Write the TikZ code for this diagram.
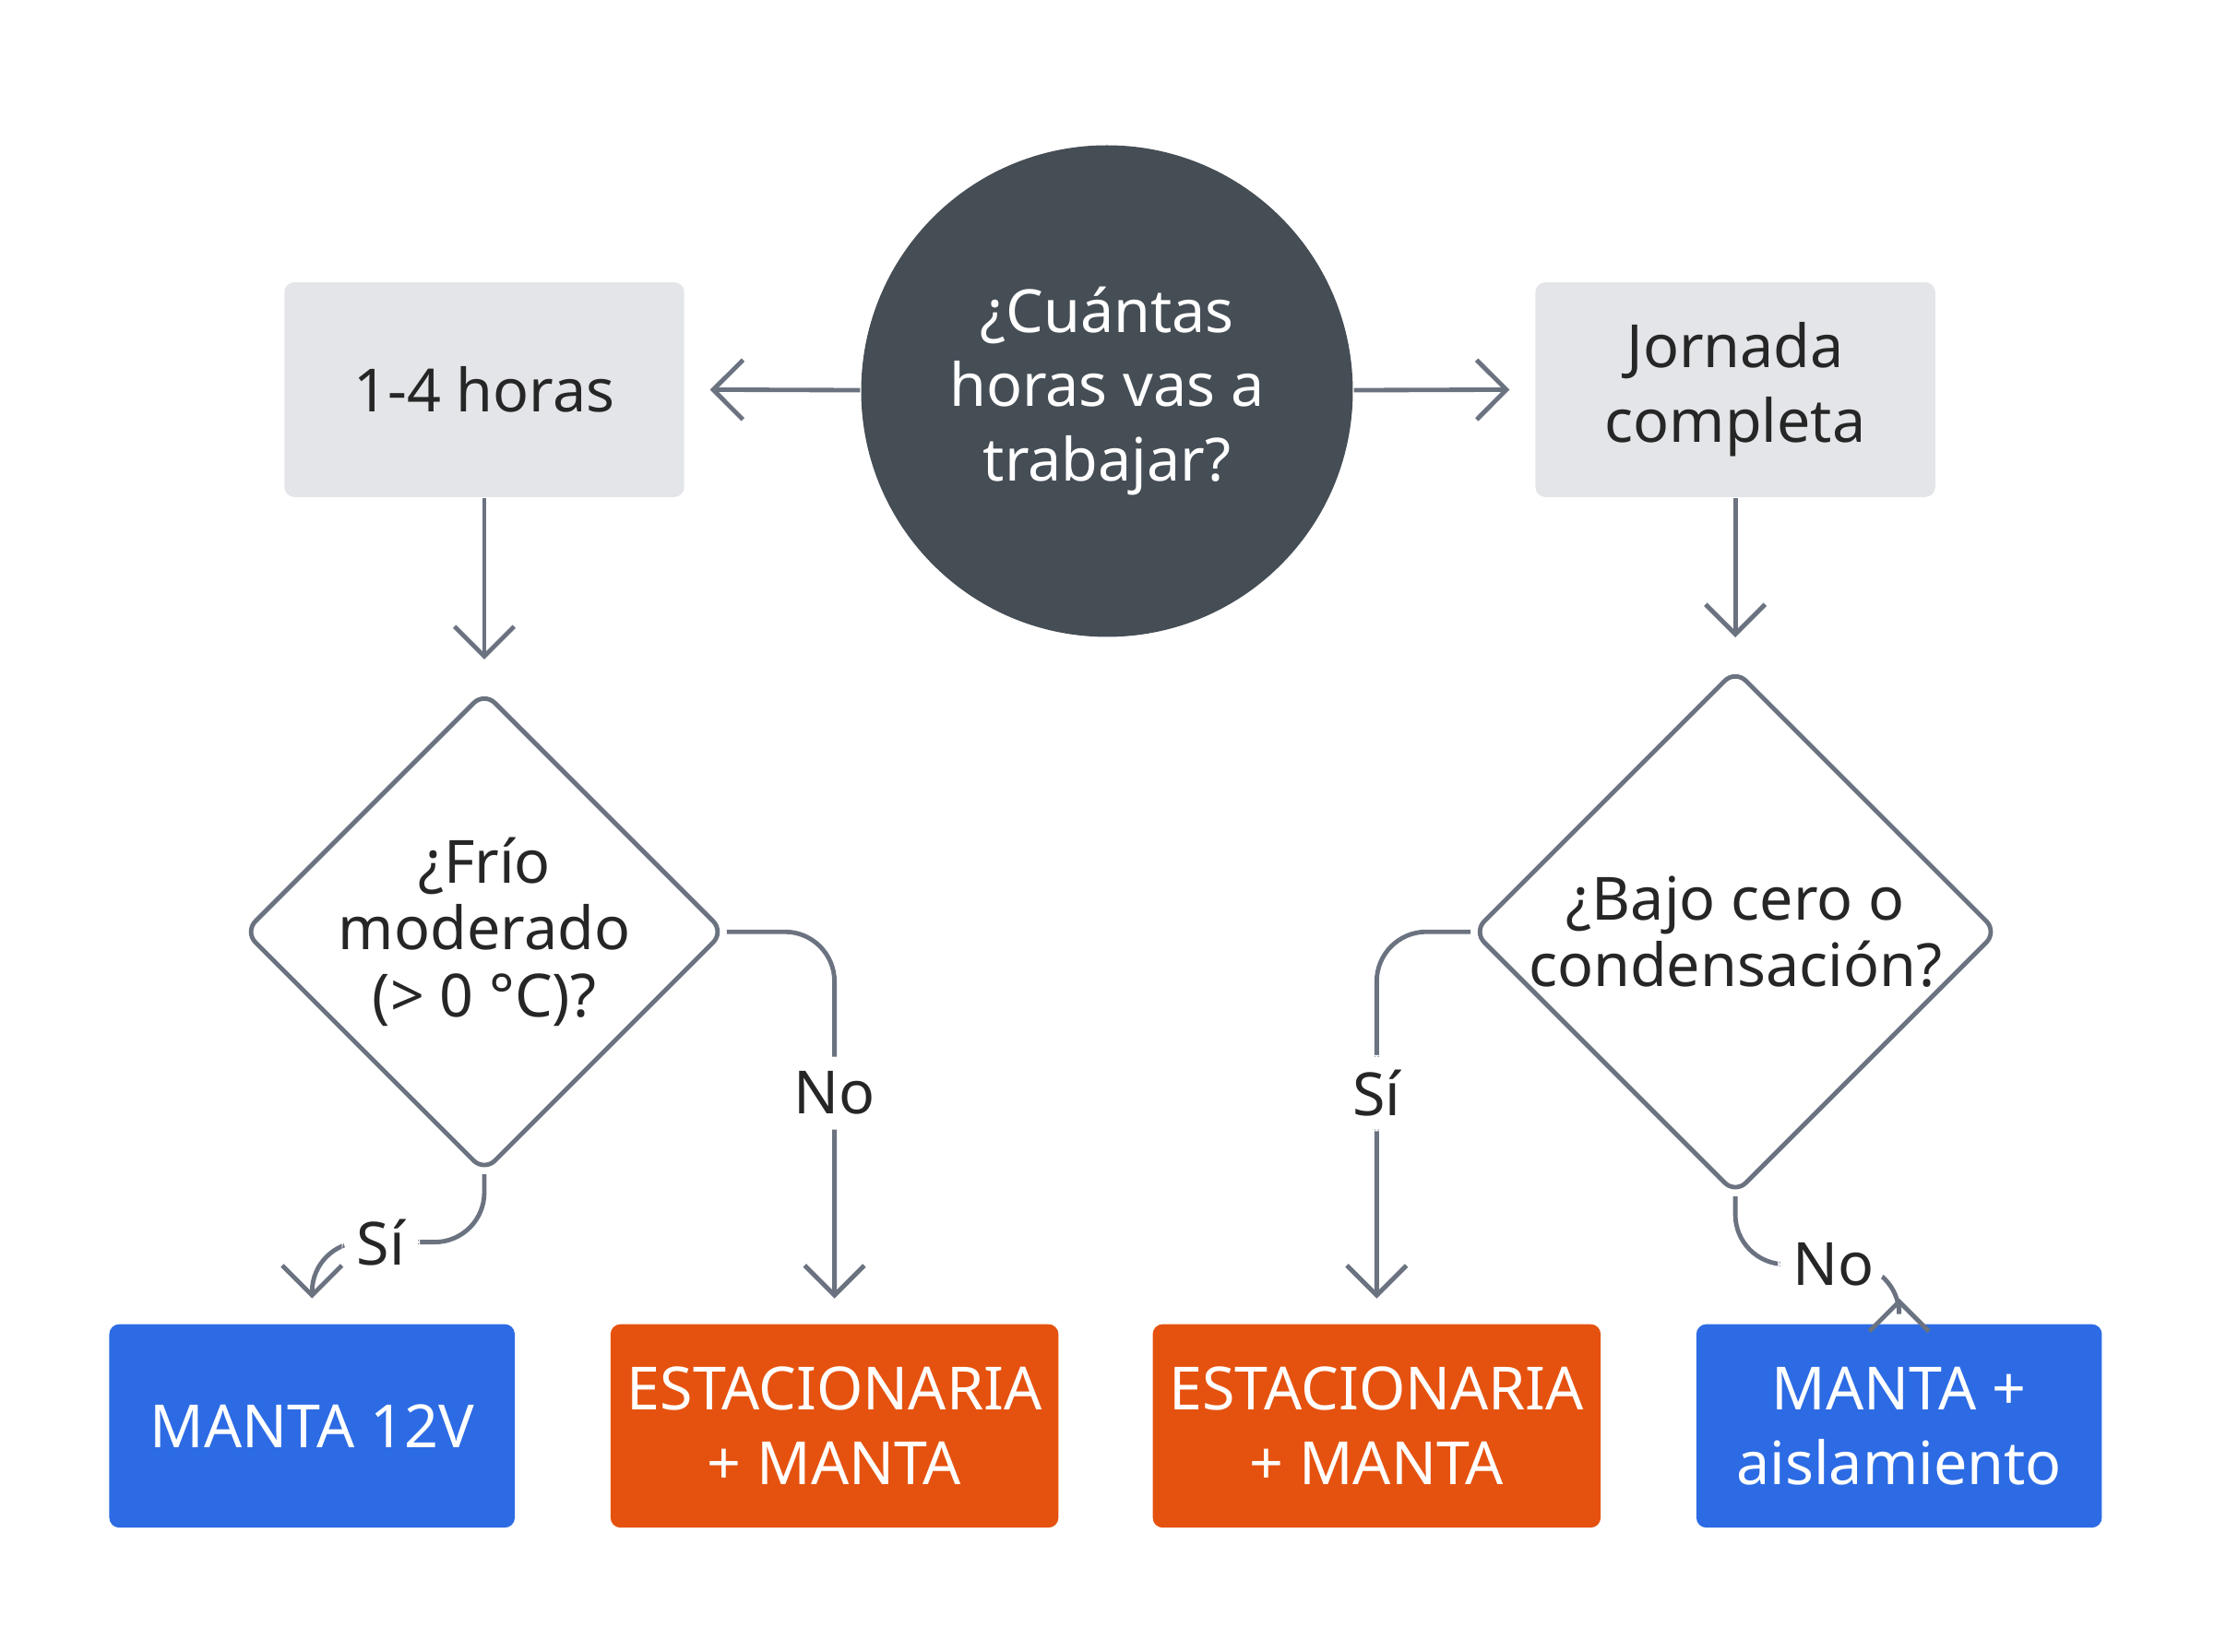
\documentclass[tikz,border=0pt]{standalone}
\usepackage{fontspec}
\setmainfont{Noto Sans}
\usetikzlibrary{arrows.meta,shapes.geometric,positioning}
\definecolor{darkq}{HTML}{454D55}
\definecolor{lightbox}{HTML}{E3E5E8}
\definecolor{linegray}{HTML}{6B7280}
\definecolor{blueres}{HTML}{2C6BE4}
\definecolor{orangeres}{HTML}{E5520F}
\begin{document}
\begin{tikzpicture}[x=0.01cm,y=-0.01cm,font=\fontsize{12}{15}\selectfont]
  \tikzstyle{question}=[circle,fill=darkq,text=white,minimum size=3.48cm,align=center]
  \tikzstyle{option}=[rectangle,rounded corners=2pt,fill=lightbox,minimum width=2.83cm,minimum height=1.52cm,align=center,text=black!85]
  \tikzstyle{decision}=[diamond,draw=linegray,line width=0.9pt,rounded corners=3pt,minimum width=3.3cm,minimum height=3.24cm,inner sep=0pt,align=center,text=black!85,font=\fontsize{12}{13.5}\selectfont]
  \tikzstyle{result}=[rectangle,rounded corners=2pt,minimum height=1.44cm,align=center,text=white]
  \tikzstyle{edge}=[draw=linegray,line width=0.9pt,-{Straight Barb[length=6pt,width=12pt]},rounded corners=10pt]
  \tikzstyle{answer}=[fill=white,inner sep=3pt,text=black!85]
  \useasboundingbox (0,0) rectangle (1568,1170);
  \node [question] (q) at (784,277) {¿Cuántas\\horas vas a\\trabajar?};
  \node [option] (short) at (343,276) {1-4 horas};
  \node [option] (full) at (1229,276) {Jornada\\completa};
  \node [decision] (mild) at (343,660) {¿Frío\\moderado\\(> 0 °C)?};
  \node [decision] (freeze) at (1229,660) {¿Bajo cero o\\condensación?};
  \node [result,fill=blueres,minimum width=2.87cm] (blanket) at (221,1010) {MANTA 12V};
  \node [result,fill=orangeres,minimum width=3.15cm] (heaterA) at (591,1010) {ESTACIONARIA\\+ MANTA};
  \node [result,fill=orangeres,minimum width=3.15cm] (heaterB) at (975,1010) {ESTACIONARIA\\+ MANTA};
  \node [result,fill=blueres,minimum width=2.87cm] (insul) at (1345,1010) {MANTA +\\aislamiento};
  \path[edge] (q) -- ([xshift=5pt]short.east);
  \path[edge] (q) -- ([xshift=-5pt]full.west);
  \path[edge] (short) -- ([yshift=6pt]mild.north);
  \path[edge] (full) -- ([yshift=6pt]freeze.north);
  \path[edge] (mild.south) -- ++(0,48) -| node[answer,pos=0.3] {Sí} ([yshift=5pt]blanket.north);
  \path[edge] (mild.east) -| node[answer,pos=0.72] {No} ([yshift=5pt]heaterA.north);
  \path[edge] (freeze.west) -| node[answer,pos=0.72] {Sí} ([yshift=5pt]heaterB.north);
  \path[edge] (freeze.south) -- ++(0,48) -| node[answer,pos=0.3] {No} ([yshift=5pt]insul.north);
\end{tikzpicture}
\end{document}
